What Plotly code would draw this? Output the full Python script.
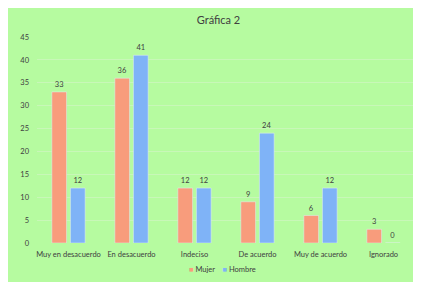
import plotly.graph_objects as go

categorias = ["Muy en desacuerdo", "En desacuerdo", "Indeciso", "De acuerdo", "Muy de acuerdo", "Ignorado"]
mujer = [33, 36, 12, 9, 6, 3]
hombre = [12, 41, 12, 24, 12, 0]
y_ticks = [0, 5, 10, 15, 20, 25, 30, 35, 40, 45]
serie_nombres = ["Mujer", "Hombre"]
serie_colores = ["#F89C7C", "#7FB3F7"]

FONT = "Lato, Open Sans, sans-serif"
TXT = "#404040"

fig = go.Figure()
for nombre, valores, color in zip(serie_nombres, [mujer, hombre], serie_colores):
    fig.add_trace(go.Bar(name=nombre, x=categorias, y=valores, marker_color=color,
                         text=valores, textposition="outside", cliponaxis=False, showlegend=False,
                         textfont=dict(size=7.5, color=TXT, family=FONT)))

leyenda = "&nbsp;&nbsp;&nbsp;&nbsp;".join(
    f'<span style="color:{c}">■</span>&nbsp;{n}' for n, c in zip(serie_nombres, serie_colores)
)

fig.update_layout(
    width=421, height=282,
    margin=dict(l=20, r=14, t=29, b=47),
    paper_bgcolor="#B6FBA0",
    plot_bgcolor="#B6FBA0",
    barmode="group", bargap=0.41, bargroupgap=0.21,
    font=dict(family=FONT, size=7.5, color=TXT),
    title=dict(text="Gráfica 2", x=0.5, xanchor="center", y=1 - 12 / 282, yanchor="middle",
               font=dict(size=11, color=TXT, family=FONT)),
    showlegend=False,
    annotations=[dict(text=leyenda, xref="paper", yref="paper", x=0.491, y=-0.131,
                      xanchor="center", yanchor="middle", showarrow=False,
                      font=dict(size=7.5, color=TXT, family=FONT))],
    xaxis=dict(showgrid=False, showline=False, ticks="", tickfont=dict(size=7.5, color=TXT),
               ticklabelstandoff=5),
    yaxis=dict(range=[0, 45], tickvals=y_ticks, showgrid=True, gridcolor="#C8F7B8", gridwidth=1,
               zeroline=False, showline=False, ticks="", tickfont=dict(size=7.5, color=TXT),
               ticklabelstandoff=7),
)

fig.write_html("out.html")
